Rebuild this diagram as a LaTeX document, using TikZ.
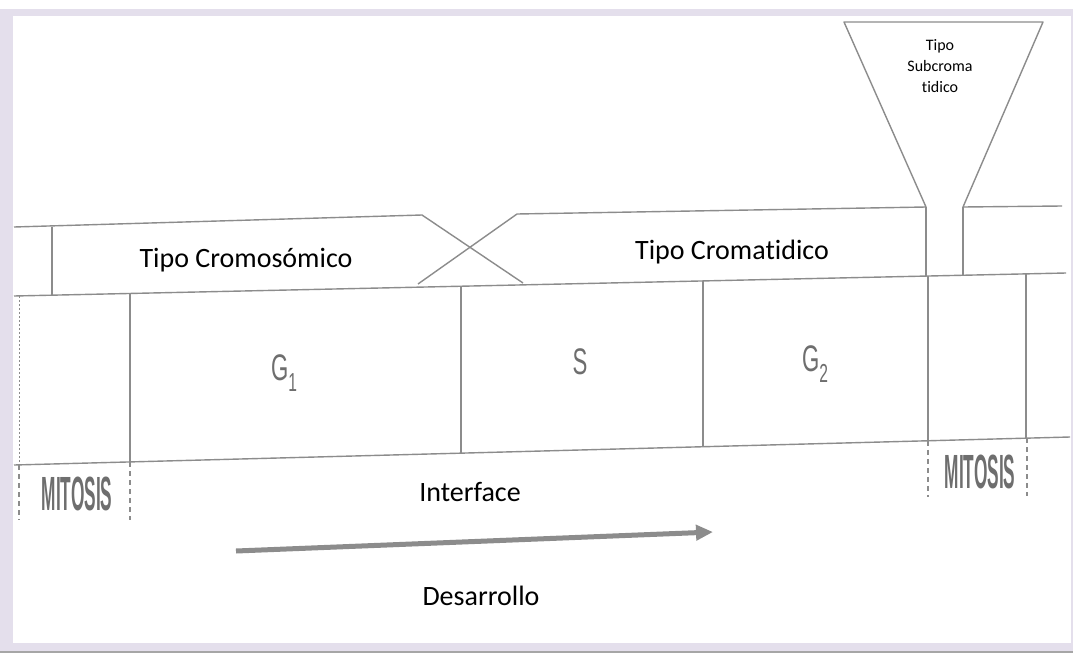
\documentclass[tikz,border=0pt]{standalone}
\usepackage{graphicx}
\usepackage{fontspec}
\setmainfont{Carlito}[Ligatures=NoCommon]
\newfontfamily\condfont{Liberation Sans}
\usetikzlibrary{arrows.meta}
\definecolor{framecol}{HTML}{E4DFEC}
\definecolor{linecol}{HTML}{8C8C8C}
\definecolor{phasecol}{HTML}{6E6E6E}
\newcommand{\phaselbl}[2]{\scalebox{0.6}[1]{G\raisebox{-0.28em}{\fontsize{26}{26}\selectfont #2}}}
\begin{document}
\begin{tikzpicture}[x=1pt,y=-1pt,
  band/.style={draw=linecol,line width=1.4pt,line join=round},
  cut/.style={draw=linecol,line width=1.3pt,dash pattern=on 5pt off 4pt},
  txt/.style={font=\fontsize{28}{32}\selectfont},
  phase/.style={text=phasecol,font=\condfont\fontsize{37}{40}\selectfont},
  mit/.style={text=phasecol,font=\condfont\bfseries\fontsize{48}{52}\selectfont}]
\useasboundingbox (0,0) rectangle (1073,653);
\fill[framecol] (0,9) rectangle (1073,651);
\fill[white] (13,16) rectangle (1071,643);
\fill[black!35] (0,651) rectangle (1073,653);
 \coordinate (a1) at (14,227);
 \coordinate (a2) at (422,215);
 \coordinate (a3) at (523,283);
 \coordinate (b1) at (418,284);
 \coordinate (b2) at (517,214);
 \coordinate (b3) at (926,207);
 \coordinate (f1) at (844,22);
 \coordinate (f2) at (1043,22);
 \coordinate (b4) at (963,207);
 \coordinate (b5) at (1062,206);
 \coordinate (s3) at (926,276);
 \coordinate (s4) at (963,275);
 \coordinate (t0) at (52,227);
 \coordinate (m0) at (52,295);
 \coordinate (m1) at (14,296);
 \coordinate (m2) at (1066,273);
 \coordinate (d1) at (14,465);
 \coordinate (d2) at (1070,437);
 \node[txt] (crom) at (246,260) {Tipo Cromosómico};
 \node[txt] (cromat) at (732,252) {Tipo Cromatidico};
 \node[align=center,font=\fontsize{16}{21}\selectfont] (sub) at (940,66) {Tipo\\Subcroma\\tidico};
 \node[phase] (g1) at (284,373) {\phaselbl{G}{1}};
 \node[phase] (s) at (580,362) {\scalebox{0.6}[1]{S}};
 \node[phase] (g2) at (815,364) {\phaselbl{G}{2}};
 \node[mit] (mit1) at (77,494) {\scalebox{0.36}[1]{MITOSIS}};
 \node[mit] (mit2) at (980,472) {\scalebox{0.36}[1]{MITOSIS}};
 \node[txt] (inter) at (470,492) {Interface};
 \node[txt] (desa) at (481,596) {Desarrollo};
 \coordinate (ar1) at (236,551);
 \coordinate (ar2) at (713,532);
\draw[band] (a1)--(a2)--(a3);
\draw[band] (b1)--(b2)--(b3)--(f1)--(f2)--(b4)--(b5);
\draw[band] (b3)--(s3);
\draw[band] (b4)--(s4);
\draw[band] (t0)--(m0);
\draw[band] (m1)--(m2);
\draw[band] (d1)--(d2);
\draw[band] (130,293.5)--(130,462);
\draw[band] (461,286.2)--(461,453.1);
\draw[band] (703,280.9)--(703,446.7);
\draw[band] (928,276)--(928,440.8);
\draw[band] (1026,273.9)--(1026,438.1);
\draw[cut,line width=0.8pt,dash pattern=on 2pt off 2pt] (19,296)--(19,465);
\draw[cut] (19,465)--(19,520);
\draw[cut] (130,462)--(130,520);
\draw[cut] (928,440.8)--(928,497);
\draw[cut] (1027,438.1)--(1027,496);
\draw[line width=5pt,linecol,-{Triangle[length=17pt,width=15pt]}] (ar1)--(ar2);
\end{tikzpicture}
\end{document}
